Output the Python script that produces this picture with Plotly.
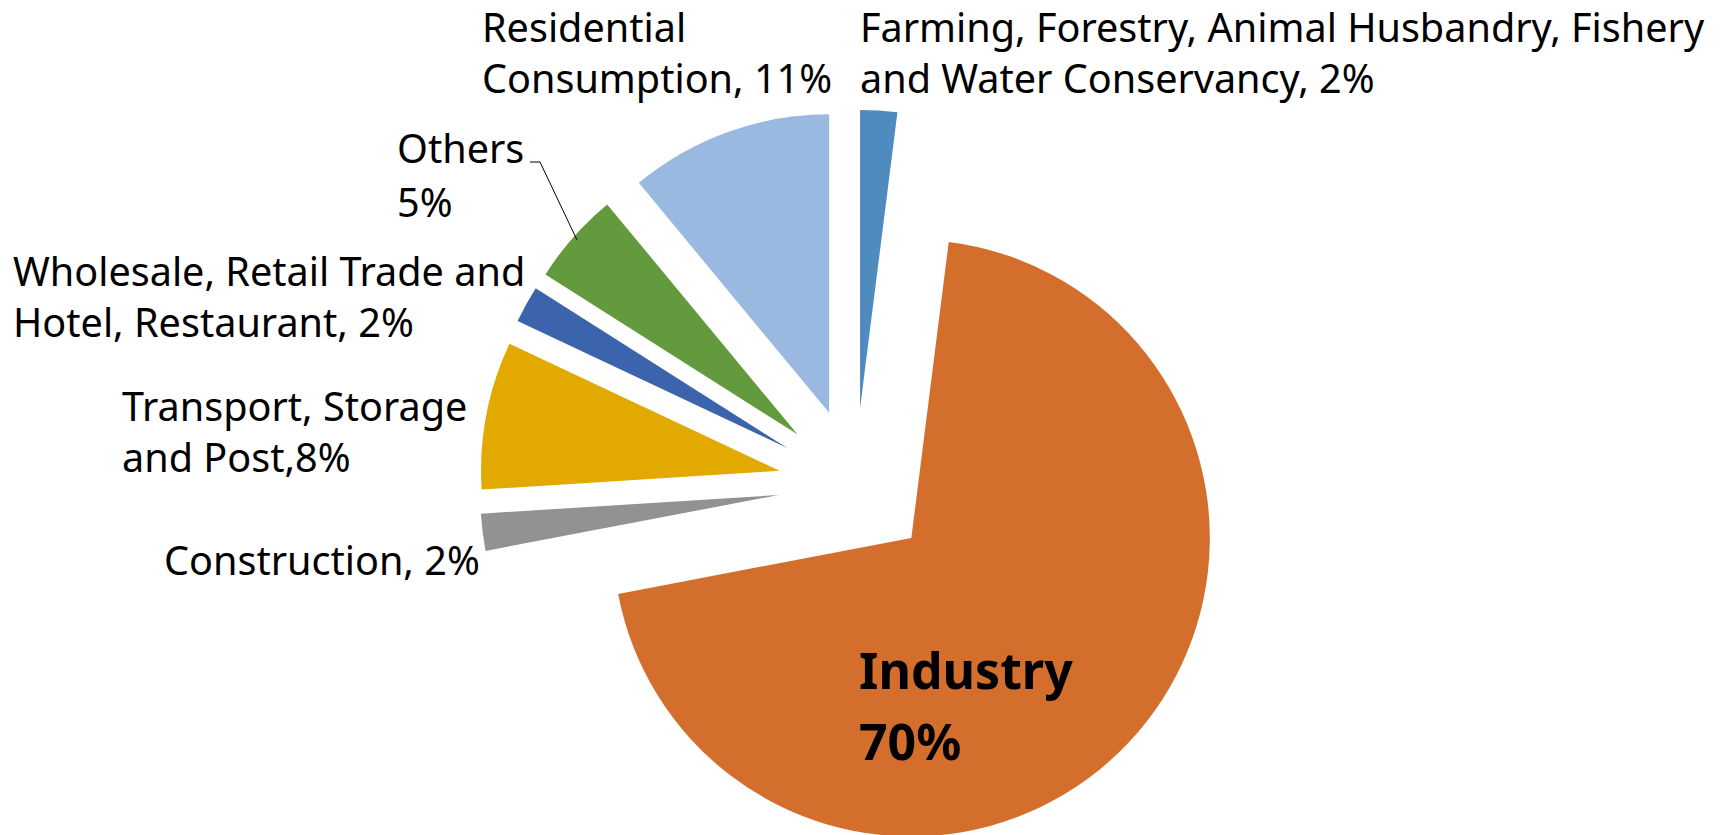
import plotly.graph_objects as go

# Energy consumption share by sector (clockwise from 12 o'clock)
sectors = [
    "Farming, Forestry, Animal Husbandry, Fishery and Water Conservancy",
    "Industry",
    "Construction",
    "Transport, Storage and Post",
    "Wholesale, Retail Trade and Hotel, Restaurant",
    "Others",
    "Residential Consumption",
]
shares = [2, 70, 2, 8, 2, 5, 11]
colors = ["#4F8BBF", "#D36E2C", "#929292", "#E2AA00", "#3C64AC", "#639A3D", "#99B9E0"]

# Data label templates ({} is replaced by the share); "|" separates lines
# that are placed individually
label_fmt = [
    "Farming, Forestry, Animal Husbandry, Fishery<br>and Water Conservancy, {}%",
    "<b>Industry</b>|<b>{}%</b>",
    "Construction, {}%",
    "Transport, Storage<br>and Post,{}%",
    "Wholesale, Retail Trade and<br>Hotel, Restaurant, {}%",
    "Others|{}%",
    "Residential<br>Consumption, {}%",
]

W, H = 1721, 880
FONT = "Noto Sans"
LABEL_SIZE = 39.6
BIG_SIZE = 50

# pie box in pixels (left, top, size)
box_l, box_t, box_s = 479.7, 109.8, 751.0

fig = go.Figure(
    go.Pie(
        labels=sectors,
        values=shares,
        sort=False,
        direction="clockwise",
        rotation=0,
        pull=[0.258] * len(shares),
        marker=dict(colors=colors, line=dict(width=0)),
        textinfo="none",
        hoverinfo="label+percent",
        showlegend=False,
        domain=dict(
            x=[box_l / W, (box_l + box_s) / W],
            y=[1 - (box_t + box_s) / H, 1 - box_t / H],
        ),
    )
)


def px(x, y):
    return x / W, 1 - y / H


# label anchor points: left edge and vertical middle of each text piece (pixels)
label_pos = [
    (858, [53]),         # Farming
    (857, [670, 741]),   # Industry
    (162, [560]),        # Construction
    (120, [431]),        # Transport
    (11, [296]),         # Wholesale
    (395, [148, 202]),   # Others
    (480, [53]),         # Residential
]

annotations = []
for i, (fmt, (x, ys)) in enumerate(zip(label_fmt, label_pos)):
    pieces = fmt.format(shares[i]).split("|")
    size = BIG_SIZE if i == 1 else LABEL_SIZE
    for piece, y in zip(pieces, ys):
        ax, ay = px(x, y)
        annotations.append(
            dict(
                text=piece,
                x=ax, y=ay, xref="paper", yref="paper",
                xanchor="left", yanchor="middle", align="left",
                showarrow=False,
                font=dict(family=FONT, size=size, color="#000000"),
            )
        )

# leader line for the "Others" label
leader = [(530, 162), (540, 162), (577, 240)]
path = "M " + " L ".join(f"{px(x, y)[0]},{px(x, y)[1]}" for x, y in leader)
shapes = [dict(type="path", xref="paper", yref="paper", path=path,
               line=dict(color="#000000", width=1))]

fig.update_layout(
    width=W,
    height=H,
    margin=dict(l=0, r=0, t=0, b=0),
    paper_bgcolor="white",
    plot_bgcolor="white",
    annotations=annotations,
    shapes=shapes,
)

fig.write_html(
    "out.html",
    post_script="document.body.style.margin='0';document.body.style.overflow='hidden';"
                "document.documentElement.style.overflow='hidden';",
)
